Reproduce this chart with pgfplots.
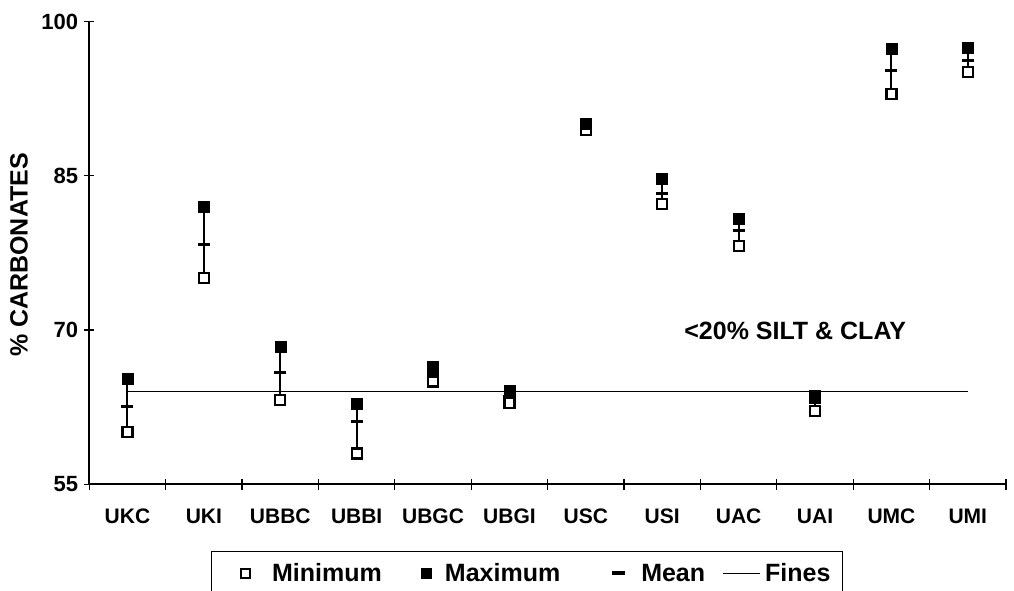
\documentclass[border=0pt]{standalone}
\usepackage{pgfplots}
\pgfplotsset{compat=1.18}
\usepackage{pgfplotstable}
\usepackage{fontspec}
\setmainfont{Liberation Sans}

\pgfplotstableread{
x   min    max    mean
0   60.1   65.3   62.6
1   75.1   82.0   78.3
2   63.2   68.4   65.9
3   58.0   62.8   61.1
4   65.0   66.4   65.7
5   62.9   64.1   63.5
6   89.5   90.1   89.8
7   82.25  84.7   83.3
8   78.2   80.8   79.7
9   62.1   63.65  63.0
10  93.0   97.4   95.3
11  95.1   97.5   96.2
}\datatable

\pgfplotstableread{
x  fines
0  64.0
11 64.0
}\finestable

\begin{document}
\begin{tikzpicture}
\path[use as bounding box] (0,0) rectangle (1014pt,591pt);
\begin{axis}[
  at={(89.3pt,106.7pt)}, anchor=south west,
  scale only axis, width=916.7pt, height=462.6pt,
  xmin=-0.5, xmax=11.5, ymin=55, ymax=100,
  axis lines=left,
  axis line style={-, line width=2pt},
  xtick={0,...,11},
  xticklabels={UKC,UKI,UBBC,UBBI,UBGC,UBGI,USC,USI,UAC,UAI,UMC,UMI},
  major x tick style={draw=none},
  minor xtick={-0.5,0.5,...,11.5},
  minor tick length=11pt,
  ytick={55,70,85,100},
  major tick length=10pt,
  tick align=center,
  tick style={black, line width=1.2pt},
  /pgf/number format/assume math mode=true,
  xticklabel style={font=\bfseries\fontsize{21}{24}\selectfont, anchor=base, inner sep=0pt, yshift=-34pt},
  yticklabel style={font=\bfseries\fontsize{22}{25}\selectfont, anchor=east, inner sep=0pt, xshift=-6pt},
  ylabel={\% CARBONATES},
  ylabel style={at={(axis description cs:-0.0767,0.4957)}, anchor=center, rotate=0, font=\bfseries\fontsize{25}{30}\selectfont},
  clip=false,
  legend columns=4,
  legend style={
    at={(axis description cs:0.1328,-0.1442)}, anchor=north west,
    draw=black, line width=1.2pt,
    font=\bfseries\fontsize{25}{30}\selectfont,
    inner xsep=12pt, inner ysep=12pt,
    nodes={inner sep=0pt},
    /tikz/column 1/.style={column sep=21pt},
    /tikz/column 2/.style={column sep=39pt},
    /tikz/column 3/.style={column sep=13pt},
    /tikz/column 4/.style={column sep=50pt},
    /tikz/column 5/.style={column sep=14pt},
    /tikz/column 6/.style={column sep=17pt},
    /tikz/column 7/.style={column sep=5pt},
  },
  legend cell align=left,
]
% legend entries
\addlegendimage{legend image code/.code={\path[draw=none, fill=none] (-27pt,-1pt) rectangle (0pt,1pt); \draw[black, line width=1.8pt, fill=white] (-9.5pt,-4.5pt) rectangle (-0.5pt,4.5pt);}}
\addlegendentry{Minimum}
\addlegendimage{legend image code/.code={\fill[black] (0pt,-5pt) rectangle (10pt,5pt);}}
\addlegendentry{Maximum}
\addlegendimage{legend image code/.code={\draw[black, line width=4pt] (0pt,0pt) -- (13pt,0pt);}}
\addlegendentry{Mean}
\addlegendimage{legend image code/.code={\draw[black, line width=1pt] (0pt,0pt) -- (37pt,0pt);}}
\addlegendentry{Fines}

% min-max range lines
\addplot[forget plot, draw=none, mark=none,
  error bars/.cd, y dir=both, y explicit, error mark=none,
  error bar style={black, line width=2pt}]
  table[x=x, y=mean,
        y error plus expr=\thisrow{max}-\thisrow{mean},
        y error minus expr=\thisrow{mean}-\thisrow{min}] {\datatable};
% fines line
\addplot[forget plot, black, line width=1pt, mark=none] table[x=x, y=fines] {\finestable};
% minimum
\addplot[forget plot, only marks, mark=square*, mark size=5pt,
  mark options={draw=black, fill=white, line width=2.2pt}] table[x=x, y=min] {\datatable};
% maximum
\addplot[forget plot, only marks, mark=square*, mark size=5.5pt,
  mark options={draw=black, fill=black, line width=0.5pt}] table[x=x, y=max] {\datatable};
% mean
\addplot[forget plot, only marks, mark=-, mark size=6pt,
  mark options={draw=black, line width=3pt}] table[x=x, y=mean] {\datatable};

\node[font=\bfseries\fontsize{25}{30}\selectfont] at (axis cs:8.74,69.94) {<20\% SILT \& CLAY};
\end{axis}
\end{tikzpicture}
\end{document}
